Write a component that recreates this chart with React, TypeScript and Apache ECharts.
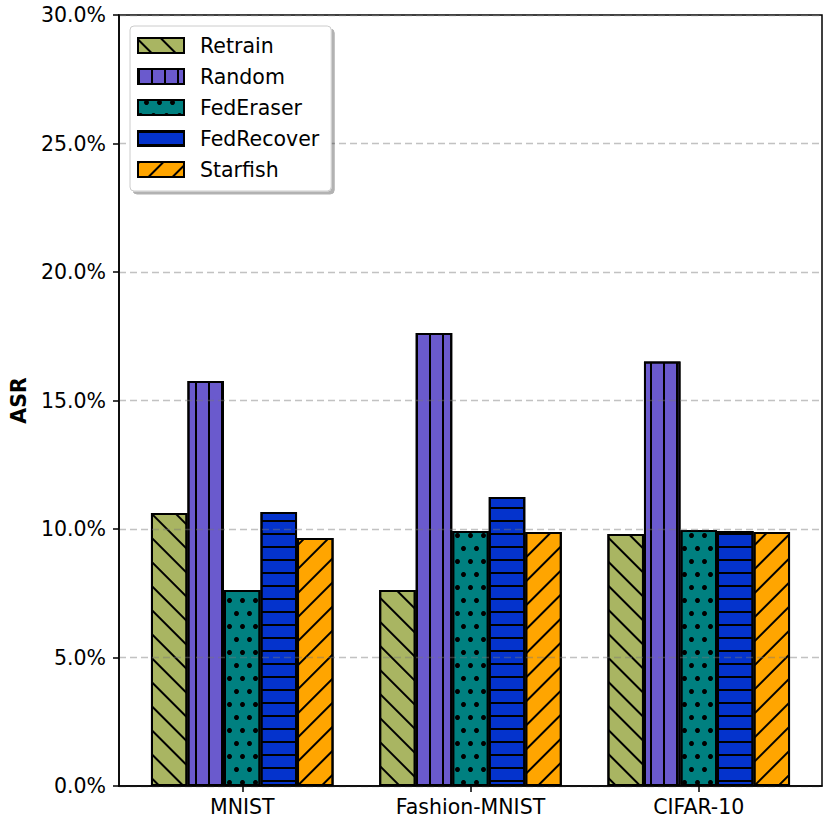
import React, { useEffect, useRef } from "react";
import * as echarts from "echarts";

const categories = ["MNIST", "Fashion-MNIST", "CIFAR-10"];
const seriesNames = ["Retrain", "Random", "FedEraser", "FedRecover", "Starfish"];
const retrain = [10.62, 7.63, 9.81];
const random = [15.76, 17.63, 16.52];
const fedEraser = [7.63, 9.92, 9.96];
const fedRecover = [10.66, 11.25, 9.92];
const starfish = [9.65, 9.88, 9.88];
const yTicks = [0, 5, 10, 15, 20, 25, 30];

const seriesValues = [retrain, random, fedEraser, fedRecover, starfish];
const colors = ["#a9b562", "#6a5acd", "#008080", "#0433cc", "#ffa500"];

const decals: any[] = [
  { symbol: "rect", symbolSize: 1, dashArrayX: [1, 0], dashArrayY: [2, 15], rotation: Math.PI / 4, color: "#000" },
  { symbol: "rect", symbolSize: 1, dashArrayX: [2, 11], dashArrayY: [1, 0], rotation: 0, color: "#000" },
  { symbol: "circle", symbolSize: 1, dashArrayX: [[5, 8], [0, 6, 5, 2]], dashArrayY: [5, 8], rotation: 0, color: "#000" },
  { symbol: "rect", symbolSize: 1, dashArrayX: [1, 0], dashArrayY: [2, 11], rotation: 0, color: "#000" },
  { symbol: "rect", symbolSize: 1, dashArrayX: [1, 0], dashArrayY: [2, 15], rotation: -Math.PI / 4, color: "#000" },
];

const FONT = "DejaVu Sans";
const FS = 20.5;

export default function App() {
  const ref = useRef<HTMLDivElement>(null);
  useEffect(() => {
    if (!ref.current) return;
    const chart = echarts.init(ref.current, undefined, { renderer: "svg" });
    const series = seriesNames.map((name, i) => ({
      name,
      type: "bar",
      z: -1,
      barGap: "0%",
      barCategoryGap: "20%",
      data: seriesValues[i].map((v, j) => [j, v]),
      itemStyle: {
        color: colors[i],
        borderColor: "#000",
        borderWidth: 2,
        decal: decals[i],
      },
    }));
    chart.setOption({
      animation: false,
      backgroundColor: "#fff",
      textStyle: { fontFamily: FONT },
      grid: {
        left: 118,
        right: 8,
        top: 15,
        bottom: 44,
        show: true,
        borderColor: "#000",
        borderWidth: 1.5,
        backgroundColor: "transparent",
      },
      legend: {
        orient: "vertical",
        left: 130,
        top: 26,
        icon: "rect",
        itemWidth: 46,
        itemHeight: 15,
        itemGap: 10,
        padding: [9, 12, 11, 7],
        backgroundColor: "#fff",
        borderColor: "#cccccc",
        borderWidth: 1,
        borderRadius: 4,
        shadowColor: "rgba(0,0,0,0.3)",
        shadowOffsetX: 3,
        shadowOffsetY: 3,
        shadowBlur: 0,
        itemStyle: { borderColor: "#000", borderWidth: 2 },
        textStyle: {
          fontFamily: FONT,
          fontSize: FS,
          color: "#000",
          padding: [0, 0, 0, 11],
        },
        data: seriesNames,
      },
      xAxis: {
        type: "value",
        min: -0.54,
        max: 2.54,
        axisLine: { show: true, onZero: false, lineStyle: { color: "#000", width: 1.5 } },
        axisTick: {
          show: true,
          length: 6,
          customValues: [0, 1, 2],
          lineStyle: { color: "#000", width: 1.5 },
        },
        axisLabel: {
          customValues: [0, 1, 2],
          formatter: (v: number) => categories[Math.round(v)] ?? "",
          fontFamily: FONT,
          fontSize: FS,
          color: "#000",
          margin: 10,
        },
        splitLine: { show: false },
      },
      yAxis: {
        type: "value",
        min: 0,
        max: 30,
        interval: 5,
        name: "ASR",
        nameLocation: "middle",
        nameRotate: 90,
        nameGap: 90,
        nameTextStyle: { fontFamily: FONT, fontSize: FS, fontWeight: "bold", color: "#000" },
        axisLine: { show: true, onZero: false, lineStyle: { color: "#000", width: 1.5 } },
        axisTick: { show: true, length: 6, lineStyle: { color: "#000", width: 1.5 } },
        axisLabel: {
          formatter: (v: number) => (yTicks.includes(v) ? v.toFixed(1) + "%" : ""),
          fontFamily: FONT,
          fontSize: FS,
          color: "#000",
          margin: 13,
        },
        splitLine: {
          show: true,
          lineStyle: { color: "rgba(120,120,120,0.45)", type: [7, 4], width: 1.3 },
        },
      },
      series,
    });
    return () => chart.dispose();
  }, []);
  return <div ref={ref} style={{ width: 830, height: 830, position: "absolute", left: 0, top: 0 }} />;
}
